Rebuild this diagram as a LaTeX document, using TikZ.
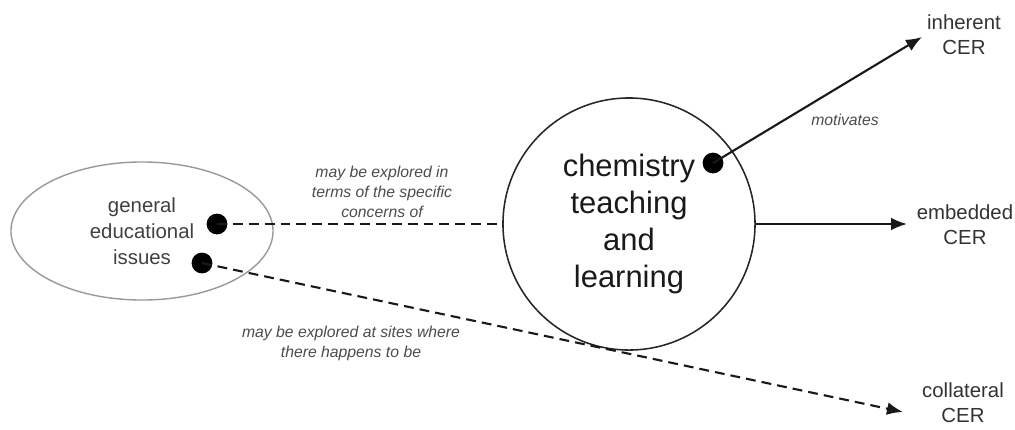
\documentclass[tikz,border=0pt]{standalone}
\usepackage{fontspec}
\setmainfont{Liberation Sans}
\usetikzlibrary{arrows.meta,positioning,shapes.geometric}

\begin{document}
\begin{tikzpicture}[x=0.025cm,y=-0.025cm]

    \tikzstyle{blob}=[circle,fill=black,draw=none,minimum size=0.52cm,inner sep=0pt]
    \tikzstyle{cer}=[align=center,text=black!80,font=\fontsize{14.5}{17.8}\selectfont]
    \tikzstyle{rel}=[align=center,text=black!70,font=\fontsize{11.2}{14.2}\selectfont\itshape]
    \tikzstyle{link}=[line width=1.5pt,black!90,-{Latex[length=0.4cm,width=0.32cm]}]
    \tikzstyle{dlink}=[line width=1.5pt,black!90,dash pattern=on 7pt off 4.3pt]

    \useasboundingbox (0,0) rectangle (1015,429);

\node (general) [ellipse,draw=black!40,line width=1pt,minimum width=6.55cm,minimum height=3.45cm,align=center,text=black!75,font=\fontsize{14.5}{18.5}\selectfont] at (142,231) {general\\educational\\issues};
\node (chem) [circle,draw=black!85,line width=1.1pt,minimum size=6.3cm,inner sep=0pt,align=center,text=black!90,font=\fontsize{22}{26.3}\selectfont] at (629,224) {chemistry\\teaching\\and\\learning};

\node (inherent) [cer] at (964,35) {inherent\\CER};
\node (embedded) [cer] at (965,225) {embedded\\CER};
\node (collateral) [cer] at (963,403) {collateral\\CER};

\coordinate (inh_tip) at (922,37);
\coordinate (emb_tip) at (907,224);
\coordinate (col_tip) at (903,412);

\node (dot_gen1) [blob] at (217,224) {};
\node (dot_gen2) [blob] at (202,263) {};
\node (dot_chem) [blob] at (713,163) {};

\draw[dlink] (dot_gen1.center) -- (dot_gen1 -| chem.west);
\draw[dlink,-{Latex[length=0.4cm,width=0.32cm]}] (dot_gen2.center) -- (col_tip);
\draw[link] (dot_chem.center) -- (inh_tip);
\draw[link] (dot_gen1 -| chem.east) -- (emb_tip);

\node (lab_motiv) [rel] at (845,120) {motivates};
\node (lab_terms) [rel] at (382,192) {may be explored in\\terms of the specific\\concerns of};
\node (lab_sites) [rel] at (351,343) {may be explored at sites where\\there happens to be};

\end{tikzpicture}
\end{document}
